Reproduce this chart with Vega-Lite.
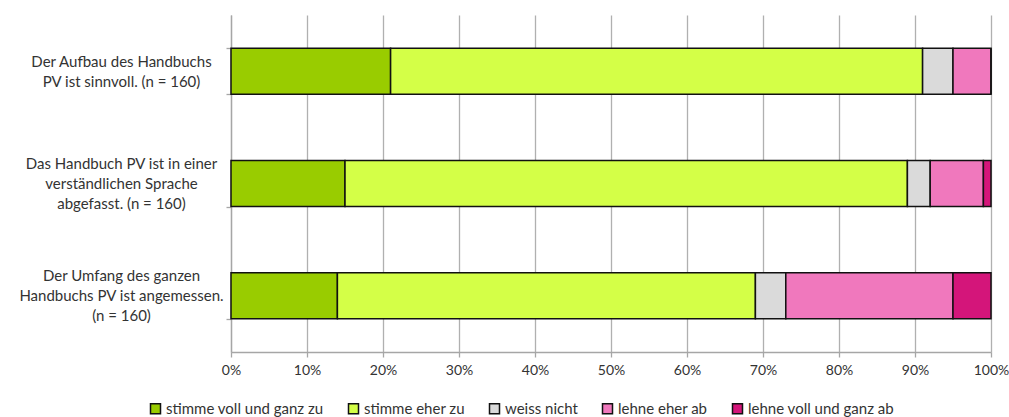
{
  "$schema": "https://vega.github.io/schema/vega-lite/v6.json",
  "width": 760,
  "height": 337,
  "autosize": {"type": "none"},
  "padding": {"left": 231, "top": 15, "right": 18, "bottom": 65},
  "background": "white",
  "config": {
    "font": "Lato",
    "view": {"stroke": null},
    "axis": {"labelFont": "Lato", "labelFontSize": 15, "labelColor": "#333333"}
  },
  "data": {
    "values": [
      {"q": "Der Aufbau des Handbuchs|PV ist sinnvoll. (n = 160)", "r": "stimme voll und ganz zu", "o": 1, "v": 21},
      {"q": "Der Aufbau des Handbuchs|PV ist sinnvoll. (n = 160)", "r": "stimme eher zu", "o": 2, "v": 70},
      {"q": "Der Aufbau des Handbuchs|PV ist sinnvoll. (n = 160)", "r": "weiss nicht", "o": 3, "v": 4},
      {"q": "Der Aufbau des Handbuchs|PV ist sinnvoll. (n = 160)", "r": "lehne eher ab", "o": 4, "v": 5},
      {"q": "Der Aufbau des Handbuchs|PV ist sinnvoll. (n = 160)", "r": "lehne voll und ganz ab", "o": 5, "v": 0},
      {"q": "Das Handbuch PV ist in einer|verständlichen Sprache|abgefasst. (n = 160)", "r": "stimme voll und ganz zu", "o": 1, "v": 15},
      {"q": "Das Handbuch PV ist in einer|verständlichen Sprache|abgefasst. (n = 160)", "r": "stimme eher zu", "o": 2, "v": 74},
      {"q": "Das Handbuch PV ist in einer|verständlichen Sprache|abgefasst. (n = 160)", "r": "weiss nicht", "o": 3, "v": 3},
      {"q": "Das Handbuch PV ist in einer|verständlichen Sprache|abgefasst. (n = 160)", "r": "lehne eher ab", "o": 4, "v": 7},
      {"q": "Das Handbuch PV ist in einer|verständlichen Sprache|abgefasst. (n = 160)", "r": "lehne voll und ganz ab", "o": 5, "v": 1},
      {"q": "Der Umfang des ganzen|Handbuchs PV ist angemessen.|(n = 160)", "r": "stimme voll und ganz zu", "o": 1, "v": 14},
      {"q": "Der Umfang des ganzen|Handbuchs PV ist angemessen.|(n = 160)", "r": "stimme eher zu", "o": 2, "v": 55},
      {"q": "Der Umfang des ganzen|Handbuchs PV ist angemessen.|(n = 160)", "r": "weiss nicht", "o": 3, "v": 4},
      {"q": "Der Umfang des ganzen|Handbuchs PV ist angemessen.|(n = 160)", "r": "lehne eher ab", "o": 4, "v": 22},
      {"q": "Der Umfang des ganzen|Handbuchs PV ist angemessen.|(n = 160)", "r": "lehne voll und ganz ab", "o": 5, "v": 5}
    ]
  },
  "mark": {"type": "bar", "stroke": "#111111", "strokeWidth": 1.5},
  "encoding": {
    "y": {
      "field": "q",
      "type": "nominal",
      "sort": null,
      "scale": {"paddingInner": 0.59, "paddingOuter": 0.295},
      "axis": {
        "title": null,
        "labelExpr": "datum.value ? split(datum.value, '|') : ''",
        "labelAlign": "center",
        "labelPadding": 105,
        "labelLimit": 400,
        "labelLineHeight": 20,
        "labelOffset": {"condition": {"test": "datum.value && indexof(datum.value, 'Aufbau') >= 0", "value": -10}, "value": -20},
        "tickBand": "extent",
        "ticks": true,
        "tickSize": 5,
        "tickColor": "#a6a6a6",
        "tickWidth": 1.3,
        "domainColor": "#a6a6a6",
        "domainWidth": 1.3,
        "grid": false
      }
    },
    "x": {
      "field": "v",
      "type": "quantitative",
      "stack": "normalize",
      "scale": {"domain": [0, 1], "nice": false},
      "axis": {
        "title": null,
        "format": ".0%",
        "values": [0, 0.1, 0.2, 0.3, 0.4, 0.5, 0.6, 0.7, 0.8, 0.9, 1],
        "labelFlush": false,
        "labelOverlap": false,
        "labelFontSize": 14,
        "grid": true,
        "gridColor": "#b0b0b0",
        "gridWidth": 1.3,
        "tickSize": 5,
        "tickColor": "#a6a6a6",
        "tickWidth": 1.3,
        "domainColor": "#a6a6a6",
        "domainWidth": 1.3,
        "labelPadding": 6
      }
    },
    "order": {"field": "o", "type": "quantitative"},
    "color": {
      "field": "r",
      "type": "nominal",
      "sort": ["stimme voll und ganz zu", "stimme eher zu", "weiss nicht", "lehne eher ab", "lehne voll und ganz ab"],
      "scale": {
        "domain": ["stimme voll und ganz zu", "stimme eher zu", "weiss nicht", "lehne eher ab", "lehne voll und ganz ab"],
        "range": ["#99cc00", "#d4ff47", "#dadada", "#f078bd", "#d4157a"]
      },
      "legend": {
        "title": null,
        "orient": "none",
        "direction": "horizontal",
        "legendX": -83,
        "legendY": 386,
        "symbolType": "square",
        "symbolSize": 100,
        "symbolStrokeColor": "#111111",
        "symbolStrokeWidth": 1.5,
        "labelFont": "Lato",
        "labelFontSize": 15,
        "labelColor": "#333333",
        "labelOffset": 3,
        "labelLimit": 400,
        "columnPadding": 21,
        "symbolOpacity": 1
      }
    }
  }
}
